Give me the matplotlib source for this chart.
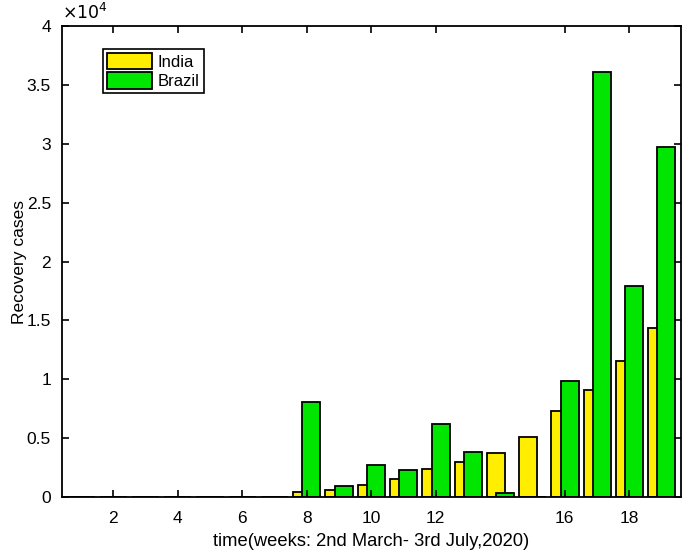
import numpy as np
import matplotlib.pyplot as plt
from matplotlib.ticker import FuncFormatter

plt.rcParams['font.family'] = ['Liberation Sans', 'DejaVu Sans']

weeks = list(range(1, 20))
india = [0, 0, 0, 0, 0, 0, 40, 400, 560, 1000, 1500, 2400, 2950, 3780,
         5100, 7320, 9050, 11570, 14320]
brazil = [0, 0, 0, 0, 40, 0, 0, 8050, 900, 2750, 2300, 6200, 3850, 380,
          0, 9870, 36060, 17900, 29760]
xticks = [2, 4, 6, 8, 10, 12, 16, 18]
yticks = [0, 5000, 10000, 15000, 20000, 25000, 30000, 35000, 40000]

x = np.array(weeks)
fig = plt.figure(figsize=(6.88, 5.58), dpi=100)
ax = fig.add_axes([0.0901, 0.1093, 0.8997, 0.8441])

ax.bar(x - 0.135, india, width=0.56, color='#ffee00', edgecolor='black',
       linewidth=1.3, label='India')
ax.bar(x + 0.15, brazil, width=0.56, color='#00e600', edgecolor='black',
       linewidth=1.3, label='Brazil')

ax.set_xlim(0.42, 19.6)
ax.set_ylim(0, 40000)
ax.set_xticks(xticks)
ax.set_yticks(yticks)
ax.yaxis.set_major_formatter(FuncFormatter(lambda v, p: '%g' % (v / 1e4)))
ax.tick_params(direction='in', top=True, right=True, length=5, width=1.2,
               labelsize=12.5)
ax.tick_params(axis='x', pad=10)
ax.tick_params(axis='y', pad=8)
for s in ax.spines.values():
    s.set_linewidth(1.3)

ax.text(0.0, 1.008, r'$\times10^4$', transform=ax.transAxes, fontsize=12.5,
        ha='left', va='bottom')
ax.set_xlabel('time(weeks: 2nd March- 3rd July,2020)', fontsize=13.2, labelpad=5)
ax.set_ylabel('Recovery cases', fontsize=12.5, labelpad=0)

leg = ax.legend(loc='upper left', bbox_to_anchor=(0.066, 0.952), fontsize=12,
                fancybox=False, framealpha=1, edgecolor='black',
                handlelength=2.7, handleheight=1.15, handletextpad=0.35,
                borderpad=0.25, labelspacing=0.15, borderaxespad=0)
leg.get_frame().set_linewidth(1.2)

fig.savefig('out.png', dpi=100)
